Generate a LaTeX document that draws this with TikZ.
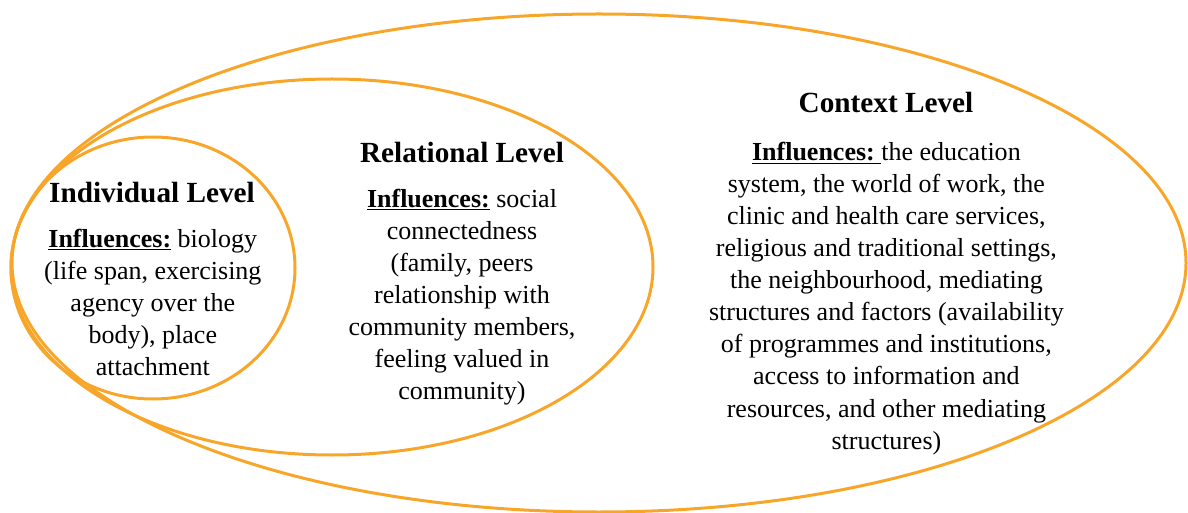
\documentclass[tikz,border=0pt]{standalone}
\usepackage{fontspec}
\setmainfont{Liberation Serif}
\usetikzlibrary{positioning}
\definecolor{ringorange}{RGB}{248,166,42}
\tikzset{
	ring/.style={draw=ringorange, line width=0.075cm},
	levelname/.style={font=\fontsize{20.8pt}{24pt}\selectfont\bfseries, inner sep=0pt},
	levelbody/.style={font=\fontsize{18.5pt}{22.8pt}\selectfont, align=center, inner sep=0pt}
}
\newcommand{\infl}{\underline{\textbf{Influences:}}}
\begin{document}
\begin{tikzpicture}[line join=round, line cap=round]
	\useasboundingbox (0,0) rectangle (29.7,-12.825);
	% the three levels
	\draw[ring] (14.975,-6.575) ellipse (14.675 and 6.225);
	\draw[ring] (8.3,-6.675) ellipse (8.025 and 4.7);
	\draw[ring] (3.825,-6.7) ellipse (3.55 and 3.275);
	% individual
	\node[levelname, anchor=base] (indname) at (3.8,-5.075) {Individual Level};
	\node[levelbody, anchor=north] (indbody) at (3.82,-5.72) {\infl{} biology\\(life span, exercising\\agency over the\\body), place\\attachment};
	% relational
	\node[levelname, anchor=base] (relname) at (11.55,-4.075) {Relational Level};
	\node[levelbody, anchor=north] (relbody) at (11.55,-4.72) {\infl{} social\\connectedness\\(family, peers\\relationship with\\community members,\\feeling valued in\\community)};
	% context
	\node[levelname, anchor=base] (ctxname) at (22.15,-2.825) {Context Level};
	\node[levelbody, anchor=north] (ctxbody) at (22.16,-3.55) {\underline{\textbf{Influences:}\ }the education\\system, the world of work, the\\clinic and health care services,\\religious and traditional settings,\\the neighbourhood, mediating\\structures and factors (availability\\of programmes and institutions,\\access to information and\\resources, and other mediating\\structures)};
\end{tikzpicture}
\end{document}
